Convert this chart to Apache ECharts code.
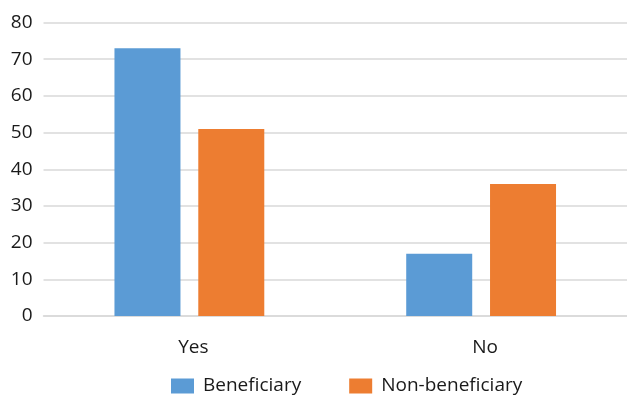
<!DOCTYPE html>
<html>
<head>
<meta charset="utf-8">
<script src="https://cdn.jsdelivr.net/npm/echarts@6/dist/echarts.min.js"></script>
<style>html,body{margin:0;padding:0;background:#fff;}#c{width:627px;height:395px;}</style>
</head>
<body>
<div id="c"></div>
<script>
const categories = ['Yes', 'No'];
const beneficiary = [73, 17];
const nonBeneficiary = [51, 36];
const seriesNames = ['Beneficiary', 'Non-beneficiary'];

const chart = echarts.init(document.getElementById('c'), null, {renderer: 'canvas'});
const font = '"Open Sans", sans-serif';
chart.setOption({
  animation: false,
  textStyle: {fontFamily: font},
  grid: {left: 43.5, right: -3, top: 22.5, bottom: 79, containLabel: false},
  legend: {
    left: 171, top: 376, padding: 0,
    itemWidth: 23, itemHeight: 15, itemGap: 48,
    icon: 'rect',
    textStyle: {fontSize: 19, lineHeight: 20, color: '#1a1a1a', fontFamily: font, padding: [0,0,0,4]},
    data: seriesNames
  },
  xAxis: {
    type: 'category',
    data: categories,
    axisLine: {lineStyle: {color: '#d9d9d9', width: 1.5}},
    axisTick: {show: false},
    axisLabel: {fontSize: 19, color: '#1a1a1a', margin: 22, fontFamily: font, padding: [0,0,0,8]}
  },
  yAxis: {
    type: 'value',
    min: 0, max: 80, interval: 10,
    axisLine: {show: false},
    axisTick: {show: false},
    splitLine: {lineStyle: {color: '#d9d9d9', width: 1.5}},
    axisLabel: {fontSize: 19, color: '#1a1a1a', margin: 11, fontFamily: font}
  },
  series: [
    {name: seriesNames[0], type: 'bar', data: beneficiary, barWidth: 66, barGap: '27%',
     itemStyle: {color: '#5B9BD5'}},
    {name: seriesNames[1], type: 'bar', data: nonBeneficiary, barWidth: 66,
     itemStyle: {color: '#ED7D31'}}
  ]
});
</script>
</body>
</html>
